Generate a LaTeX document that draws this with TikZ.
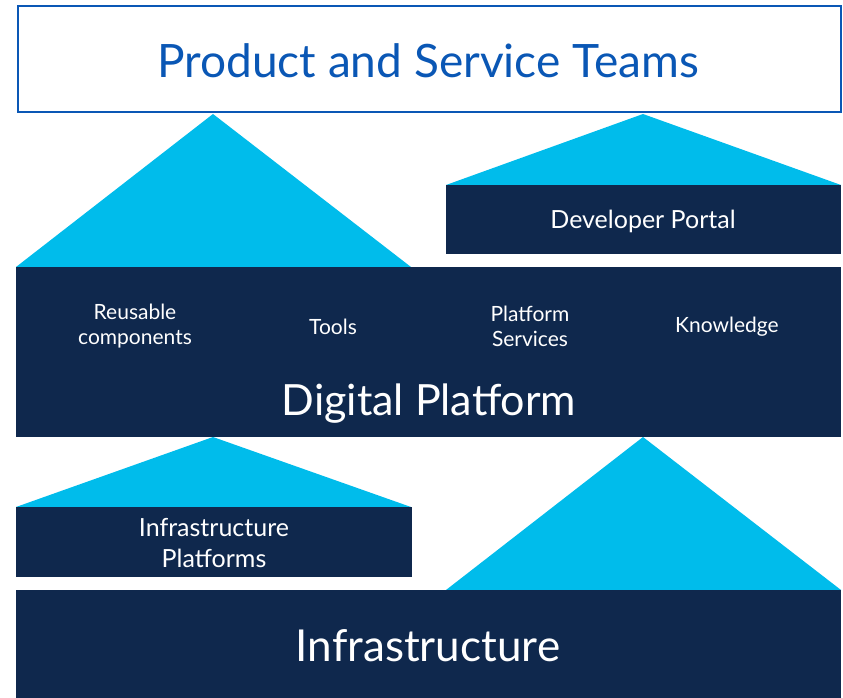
\documentclass[tikz,border=0pt]{standalone}
\usepackage{fontspec}
\setmainfont{Lato}
\definecolor{navy}{HTML}{0F284D}
\definecolor{cyanish}{HTML}{00BCEB}
\definecolor{ciscoblue}{HTML}{0A57B5}
\begin{document}
\begin{tikzpicture}[x=1pt,y=-1pt,
  darkbox/.style={fill=navy,draw=none,text=white,inner sep=0pt,anchor=north west},
  tri/.style={fill=cyanish,draw=none},
  lbl/.style={text=white,align=center,font=\fontsize{21}{25}\selectfont},
]
\useasboundingbox (0,0) rectangle (843,698);
% top box
\node[draw=ciscoblue,line width=2pt,fill=white,anchor=north west,minimum width=823pt,minimum height=106pt,inner sep=0pt] (pst) at (17,5) {};
\node[text=ciscoblue,font=\fontsize{46}{50}\selectfont] (pstl) at (428,61) {Product and Service Teams};
% triangles upper
\draw[tri] (16,267) -- (213,114) -- (411,267) -- cycle;
\draw[tri] (446,185) -- (643,114) -- (841,185) -- cycle;
% developer portal
\node[darkbox,minimum width=395pt,minimum height=69pt] (dev) at (446,185) {};
\node[lbl,font=\fontsize{25}{28}\selectfont] (devl) at (643,221) {Developer Portal};
% digital platform
\node[darkbox,minimum width=825pt,minimum height=170pt] (dp) at (16,267) {};
\node[lbl] (reu) at (135,326) {Reusable\\components};
\node[lbl] (tools) at (333,327) {Tools};
\node[lbl] (ps) at (530,326) {Platform\\Services};
\node[lbl] (kn) at (727,327) {Knowledge};
\node[text=white,font=\fontsize{43}{46}\selectfont] (dpl) at (429,404) {Digital Platform};
% lower triangles
\draw[tri] (16,507) -- (213,437) -- (411,507) -- cycle;
\draw[tri] (446,590) -- (643,437) -- (841,590) -- cycle;
% infrastructure platforms
\node[darkbox,minimum width=396pt,minimum height=70pt] (ip) at (16,507) {};
\node[lbl,font=\fontsize{25}{31}\selectfont] (ipl) at (214,543) {Infrastructure\\Platforms};
% infrastructure
\node[darkbox,minimum width=825pt,minimum height=108pt] (inf) at (16,590) {};
\node[text=white,font=\fontsize{44}{48}\selectfont] (infl) at (428,646) {Infrastructure};
\end{tikzpicture}
\end{document}
